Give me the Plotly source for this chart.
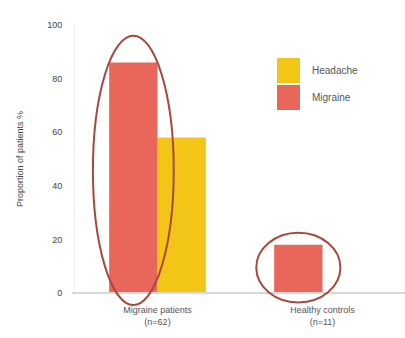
import plotly.graph_objects as go

# Data
categories = ["Migraine patients<br>(n=62)", "Healthy controls<br>(n=11)"]
migraine = [86, 18]
headache = [58, 0]
y_ticks = [0, 20, 40, 60, 80, 100]

RED = "#E9675A"
YELLOW = "#F3C516"
RING = "#A9463E"
TEXT = "#555555"
FONT = "Liberation Sans"

W, H = 405, 338
M = dict(l=75, r=0, t=25, b=45)
X_RANGE = [-0.5, 1.5]
Y_RANGE = [0, 100]
BAR_W = 0.293  # width of one bar in category units

fig = go.Figure()
fig.add_trace(go.Bar(name="Migraine", x=[0, 1], y=migraine,
                     marker=dict(color=RED, line=dict(width=0)),
                     showlegend=False))
fig.add_trace(go.Bar(name="Headache", x=[0, 1], y=headache,
                     marker=dict(color=YELLOW, line=dict(width=0)),
                     showlegend=False))


def px(x):
    return (x - X_RANGE[0]) / (X_RANGE[1] - X_RANGE[0])


def py(y):
    return (y - Y_RANGE[0]) / (Y_RANGE[1] - Y_RANGE[0])


shapes = []
# Baseline
shapes.append(dict(type="line", xref="paper", yref="paper", x0=-0.01, x1=1,
                   y0=0, y1=0, line=dict(color="#D8D8D8", width=2)))

# Rings highlighting the migraine bars
red_centers = [i - BAR_W / 2 for i in range(len(categories))]
ring_specs = [
    (red_centers[0], 0.245, -4.5, migraine[0] + 10),
    (red_centers[1], 0.255, -3.5, migraine[1] + 4.5),
]
for cx, hw, y0, y1 in ring_specs:
    shapes.append(dict(type="circle", xref="paper", yref="paper",
                       x0=px(cx - hw), x1=px(cx + hw), y0=py(y0), y1=py(y1),
                       line=dict(color=RING, width=2), layer="above"))

# Legend block
legend_items = [("Headache", YELLOW), ("Migraine", RED)]
pw = W - M["l"] - M["r"]
ph = H - M["t"] - M["b"]
annotations = []
for i, (label, col) in enumerate(legend_items):
    top = 58 + i * 27
    x0 = (277 - M["l"]) / pw
    x1 = (300 - M["l"]) / pw
    y0 = (H - M["b"] - (top + 25)) / ph
    y1 = (H - M["b"] - top) / ph
    shapes.append(dict(type="rect", xref="paper", yref="paper",
                       x0=x0, x1=x1, y0=y0, y1=y1,
                       fillcolor=col, line=dict(width=0)))
    annotations.append(dict(text=label, xref="paper", yref="paper",
                            x=(310 - M["l"]) / pw, y=(y0 + y1) / 2,
                            xanchor="left", yanchor="middle", showarrow=False,
                            font=dict(family=FONT, size=10, color=TEXT)))

fig.update_layout(
    width=W, height=H, margin=M,
    paper_bgcolor="white", plot_bgcolor="white",
    barmode="group", bargap=1 - 2 * BAR_W, bargroupgap=0,
    showlegend=False,
    font=dict(family=FONT, size=9, color=TEXT),
    xaxis=dict(range=X_RANGE, tickmode="array", tickvals=[0, 1],
               ticktext=categories, showgrid=False, zeroline=False,
               showline=False, ticks="", ticklabelstandoff=10,
               tickfont=dict(size=9, color=TEXT)),
    yaxis=dict(range=Y_RANGE, tickvals=y_ticks, showgrid=False,
               zeroline=False, showline=True, linecolor="#EEEEEE",
               linewidth=1, ticks="", ticklen=0, ticklabelstandoff=10,
               tickfont=dict(size=9, color="#444444"),
               title=dict(text="Proportion of patients %", standoff=22,
                          font=dict(size=9, color="#444444"))),
    shapes=shapes,
    annotations=annotations,
)

fig.write_html("out.html")
